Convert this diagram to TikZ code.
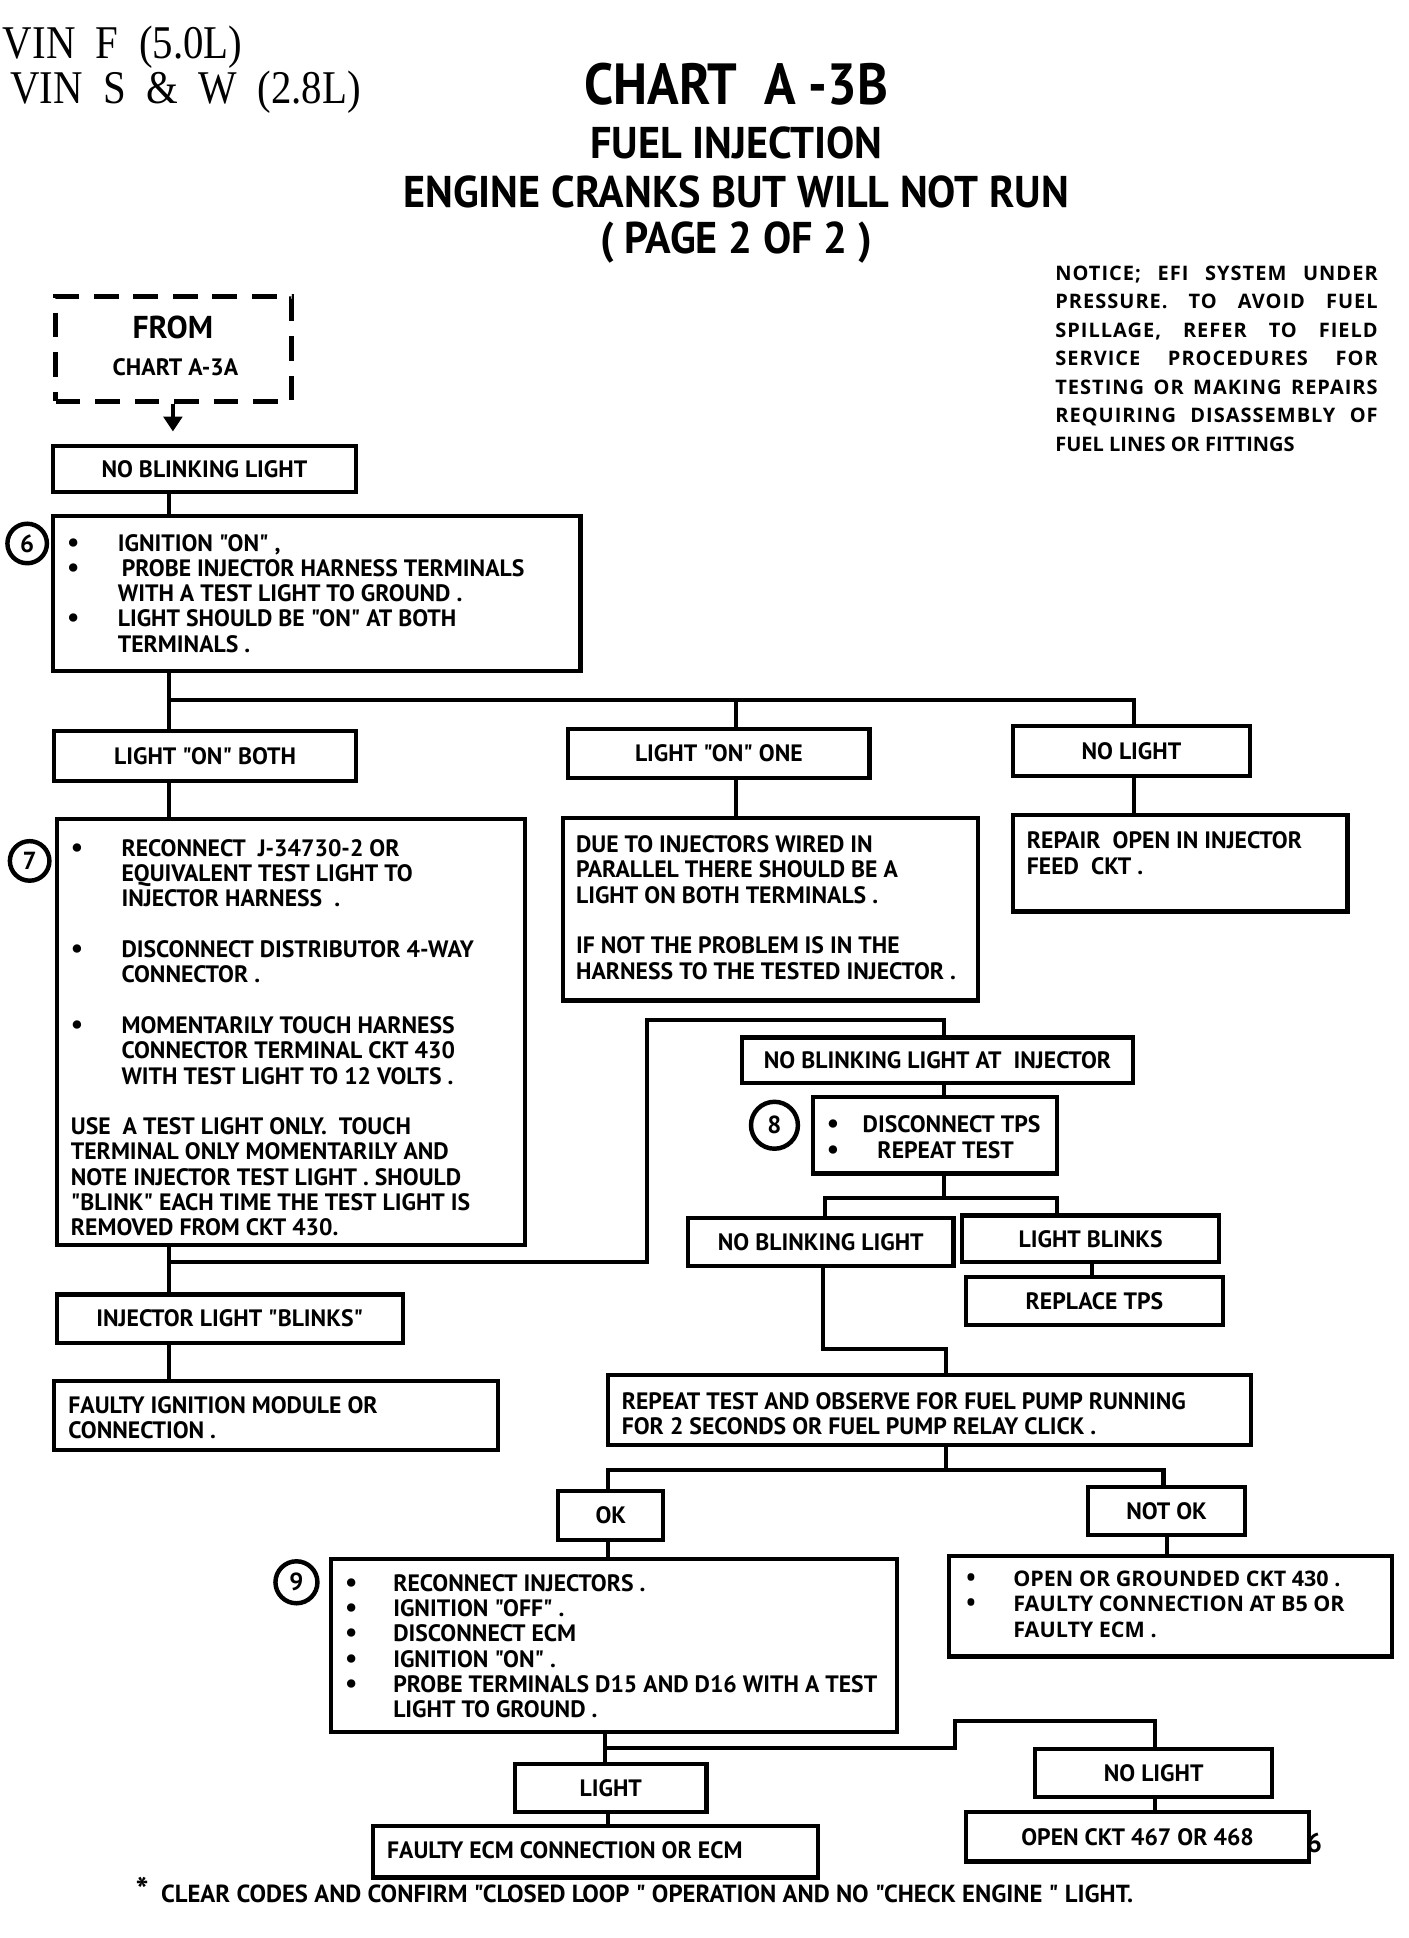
\documentclass[tikz,border=0pt]{standalone}
\usepackage{graphicx}
\usepackage{fontspec}
\setmainfont{PT Sans}
\newfontfamily\cf{PT Sans}
\newfontfamily\hf[FakeStretch=0.95]{PT Sans}
\newfontfamily\wf{Open Sans}
\newfontfamily\nf[LetterSpace=5]{Open Sans}
\newfontfamily\vinf[FakeStretch=0.87]{Liberation Serif}
\usetikzlibrary{arrows.meta}

\newcommand\tf{\cf\bfseries\fontsize{9.6}{10.25}\selectfont}
\newcommand\bul[1]{\makebox[#1][l]{\scalebox{1.15}{\textbullet}}}
\newcommand\ind[1]{\hspace*{#1}}

\tikzset{
  box/.style={draw, line width=1.7pt, rectangle, inner sep=0pt, font=\tf},
  fromstyle/.style={draw, line width=2.1pt, dash pattern=on 10pt off 6pt, rectangle, inner sep=0pt},
  conn/.style={line width=1.7pt},
  btxt/.style={font=\tf, inner sep=0pt, align=left, anchor=north west},
  wtxt/.style={font=\wf\bfseries\fontsize{8.7}{10.4}\selectfont, inner sep=0pt, align=left, anchor=north west},
  num/.style={draw, circle, line width=1.8pt, inner sep=0pt, minimum size=16pt, font=\cf\bfseries\fontsize{10}{10}\selectfont},
  ttl/.style={inner sep=0pt, font=\hf\bfseries},
}
\newcommand\bx[6]{\node[box, minimum width={(#4-#2)*0.5pt}, minimum height={(#5-#3)*0.5pt}] (#1) at ({(#2+#4)/2},{(#3+#5)/2}) {#6};}

\begin{document}
\begin{tikzpicture}[x=0.5pt,y=-0.5pt]
\useasboundingbox (0,0) rectangle (1140,1569);

% ---------- header ----------
\node[anchor=west, inner sep=0pt, font=\vinf\fontsize{19}{19}\selectfont] (vin1) at (2,38) {VIN\ \ F\ \ (5.0L)};
\node[anchor=west, inner sep=0pt, font=\vinf\fontsize{19}{19}\selectfont] (vin2) at (8,75) {VIN\ \ S\ \ \&\ \ W\ \ (2.8L)};
\node[inner sep=0pt, font=\cf\bfseries\fontsize{23.5}{23.5}\selectfont] (t1) at (596,68) {\scalebox{0.9}[1]{CHART\ \ A -3B}};
\node[ttl, font=\hf\bfseries\fontsize{18}{18}\selectfont] (t2) at (596,116) {FUEL INJECTION};
\node[ttl, font=\hf\bfseries\fontsize{18}{18}\selectfont] (t3) at (596,155) {ENGINE CRANKS BUT WILL NOT RUN};
\node[ttl, font=\hf\bfseries\fontsize{18}{18}\selectfont] (t4) at (596,196) {( PAGE 2 OF 2 )};

\node[wtxt, font=\nf\bfseries\fontsize{8.1}{11.5}\selectfont] (notice) at (854,215) {%
\makebox[130.5pt][s]{NOTICE; EFI SYSTEM UNDER}\\
\makebox[130.5pt][s]{PRESSURE. TO AVOID FUEL}\\
\makebox[130.5pt][s]{SPILLAGE, REFER TO FIELD}\\
\makebox[130.5pt][s]{SERVICE PROCEDURES FOR}\\
\makebox[130.5pt][s]{TESTING OR MAKING REPAIRS}\\
\makebox[130.5pt][s]{REQUIRING DISASSEMBLY OF}\\
{\wf FUEL LINES OR FITTINGS}};

% ---------- boxes ----------
\node[fromstyle, minimum width={191*0.5pt}, minimum height={85*0.5pt}] (from) at (140.5,282.5) {};
\node[inner sep=0pt, font=\cf\bfseries\fontsize{12.8}{12.8}\selectfont] (fromt) at (140,265) {FROM};
\node[inner sep=0pt, font=\tf] (fromc) at (142,297) {CHART A-3A};

\bx{nb1}{43}{361}{288}{398}{NO BLINKING LIGHT}
\bx{s6}{43}{418}{470}{543}{}
\bx{lboth}{44}{592}{288}{632}{LIGHT "ON" BOTH}
\bx{lone}{460}{590}{704}{630}{LIGHT "ON" ONE}
\bx{nol}{820}{588}{1012}{628}{NO LIGHT}
\bx{s7}{46}{663}{425}{1008}{}
\bx{due}{456}{662}{792}{810}{}
\bx{rep}{820}{660}{1091}{738}{}
\bx{injb}{46}{1048}{326}{1087}{INJECTOR LIGHT "BLINKS"}
\bx{fim}{44}{1118}{403}{1174}{}
\bx{nbi}{601}{840}{917}{877}{NO BLINKING LIGHT AT\ \ INJECTOR}
\bx{s8}{658}{888}{856}{950}{}
\bx{nbl2}{557}{986}{772}{1025}{NO BLINKING LIGHT}
\bx{lbl}{779}{984}{987}{1022}{LIGHT BLINKS}
\bx{rtps}{782}{1034}{990}{1073}{REPLACE TPS}
\bx{rt}{492}{1113}{1013}{1170}{}
\bx{ok}{452}{1207}{537}{1247}{OK}
\bx{nok}{881}{1204}{1008}{1243}{NOT OK}
\bx{s9}{268}{1262}{726}{1402}{}
\bx{nokr}{768}{1260}{1127}{1341}{}
\bx{light}{417}{1428}{572}{1467}{LIGHT}
\bx{nol2}{838}{1416}{1030}{1455}{NO LIGHT}
\bx{fecm}{302}{1478}{662}{1520}{}
\bx{open}{782}{1467}{1060}{1507}{OPEN CKT 467 OR 468}

% ---------- step numbers ----------
\node[num] (n6) at (22,440) {6};
\node[num] (n7) at (24,697) {7};
\node[num, minimum size=19pt] (n8) at (627,911) {8};
\node[num, minimum size=17pt] (n9) at (240,1281) {9};

% ---------- box texts ----------
\node[btxt] (s6t) at (54,432) {\bul{20.5pt}IGNITION "ON" ,\\
\bul{20.5pt}\,PROBE INJECTOR HARNESS TERMINALS\\
\ind{20.5pt}WITH A TEST LIGHT TO GROUND .\\
\bul{20.5pt}LIGHT SHOULD BE "ON" AT BOTH\\
\ind{20.5pt}TERMINALS .};

\node[btxt] (s7t) at (57,679) {\bul{20.5pt}RECONNECT\ \ J-34730-2 OR\\
\ind{20.5pt}EQUIVALENT TEST LIGHT TO\\
\ind{20.5pt}INJECTOR HARNESS\ \ .\\[10.25pt]
\bul{20.5pt}DISCONNECT DISTRIBUTOR 4-WAY\\
\ind{20.5pt}CONNECTOR .\\[10.25pt]
\bul{20.5pt}MOMENTARILY TOUCH HARNESS\\
\ind{20.5pt}CONNECTOR TERMINAL CKT 430\\
\ind{20.5pt}WITH TEST LIGHT TO 12 VOLTS .\\[10.25pt]
USE\ \ A TEST LIGHT ONLY.\ \ TOUCH\\
TERMINAL ONLY MOMENTARILY AND\\
NOTE INJECTOR TEST LIGHT . SHOULD\\
"BLINK" EACH TIME THE TEST LIGHT IS\\
REMOVED FROM CKT 430.};

\node[btxt] (duet) at (466,676) {DUE TO INJECTORS WIRED IN\\
PARALLEL THERE SHOULD BE A\\
LIGHT ON BOTH TERMINALS .\\[10.25pt]
IF NOT THE PROBLEM IS IN THE\\
HARNESS TO THE TESTED INJECTOR .};

\node[btxt] (rept) at (831,673) {REPAIR\ \ OPEN IN INJECTOR\\
FEED\ \ CKT .};

\node[btxt] (fimt) at (55,1130) {FAULTY IGNITION MODULE OR\\
CONNECTION .};

\node[btxt] (s8t) at (669,903) {\bul{14.5pt}DISCONNECT TPS\\
\bul{14.5pt}\ind{6pt}REPEAT TEST};

\node[btxt] (rtt) at (503,1127) {REPEAT TEST AND OBSERVE FOR FUEL PUMP RUNNING\\
FOR 2 SECONDS OR FUEL PUMP RELAY CLICK .};

\node[btxt] (s9t) at (279,1274) {\bul{19.5pt}RECONNECT INJECTORS .\\
\bul{19.5pt}IGNITION "OFF" .\\
\bul{19.5pt}DISCONNECT ECM\\
\bul{19.5pt}IGNITION "ON" .\\
\bul{19.5pt}PROBE TERMINALS D15 AND D16 WITH A TEST\\
\ind{19.5pt}LIGHT TO GROUND .};

\node[wtxt] (nokt) at (782,1271) {\bul{19pt}OPEN OR GROUNDED CKT 430 .\\
\bul{19pt}FAULTY CONNECTION AT B5 OR\\
\ind{19pt}FAULTY ECM .};

\node[inner sep=0pt, anchor=west, font=\tf] (fecmt) at (313,1498) {FAULTY ECM CONNECTION OR ECM};
\node[inner sep=0pt, font=\cf\bfseries\fontsize{11}{11}\selectfont] (pg) at (1064,1492) {6};

\node[inner sep=0pt, font=\cf\bfseries\fontsize{14}{14}\selectfont] (star) at (115,1530) {*};
\node[inner sep=0pt, anchor=west, font=\cf\bfseries\fontsize{10}{10}\selectfont] (foot) at (130,1533) {CLEAR CODES AND CONFIRM "CLOSED LOOP " OPERATION AND NO "CHECK ENGINE " LIGHT.};

% ---------- connectors ----------
\coordinate (a1) at (140,0);
\coordinate (xL) at (137,0);
\coordinate (t1L) at (137,567);
\coordinate (t1M) at (596,567);
\coordinate (t1R) at (918,567);
\coordinate (b7) at (137,1022);
\coordinate (b7r) at (524,1022);
\coordinate (b7t) at (524,826);
\coordinate (b7i) at (764,826);
\coordinate (s8j) at (764,970);
\coordinate (s8l) at (668,970);
\coordinate (s8r) at (856,970);
\coordinate (xT) at (884,0);
\coordinate (c1) at (666,1092);
\coordinate (c2) at (766,1092);
\coordinate (rtj) at (766,1190);
\coordinate (okx) at (492,1190);
\coordinate (nokx) at (942,1190);
\coordinate (xN) at (945,0);
\coordinate (d1) at (490,1415);
\coordinate (d2) at (773,1415);
\coordinate (d3) at (773,1393);
\coordinate (d4) at (935,1393);
\coordinate (xE) at (492,0);

\draw[conn, shorten >=5pt, -{Triangle[width=7.5pt,length=6pt]}] (from.south -| a1) -- (nb1.north -| a1);
\draw[conn] (nb1.south -| xL) -- (s6.north -| xL);
\draw[conn] (s6.south -| xL) -- (lboth.north -| xL);
\draw[conn] (t1L) -- (t1R) -- (nol.north -| t1R);
\draw[conn] (t1M) -- (lone.north -| t1M);
\draw[conn] (lboth.south -| xL) -- (s7.north -| xL);
\draw[conn] (lone.south -| t1M) -- (due.north -| t1M);
\draw[conn] (nol.south -| t1R) -- (rep.north -| t1R);
\draw[conn] (s7.south -| xL) -- (injb.north -| xL);
\draw[conn] (b7) -- (b7r) -- (b7t) -- (b7i) -- (nbi.north -| b7i);
\draw[conn] (injb.south -| xL) -- (fim.north -| xL);
\draw[conn] (nbi.south -| b7i) -- (s8.north -| b7i);
\draw[conn] (s8.south -| s8j) -- (s8j);
\draw[conn] (nbl2.north -| s8l) -- (s8l) -- (s8r) -- (lbl.north -| s8r);
\draw[conn] (lbl.south -| xT) -- (rtps.north -| xT);
\draw[conn] (nbl2.south -| c1) -- (c1) -- (c2) -- (rt.north -| c2);
\draw[conn] (rt.south -| rtj) -- (rtj);
\draw[conn] (ok.north -| okx) -- (okx) -- (nokx) -- (nok.north -| nokx);
\draw[conn] (ok.south -| okx) -- (s9.north -| okx);
\draw[conn] (nok.south -| xN) -- (nokr.north -| xN);
\draw[conn] (s9.south -| d1) -- (light.north -| d1);
\draw[conn] (d1) -- (d2) -- (d3) -- (d4) -- (nol2.north -| d4);
\draw[conn] (light.south -| xE) -- (fecm.north -| xE);
\draw[conn] (nol2.south -| d4) -- (open.north -| d4);
\end{tikzpicture}
\end{document}
